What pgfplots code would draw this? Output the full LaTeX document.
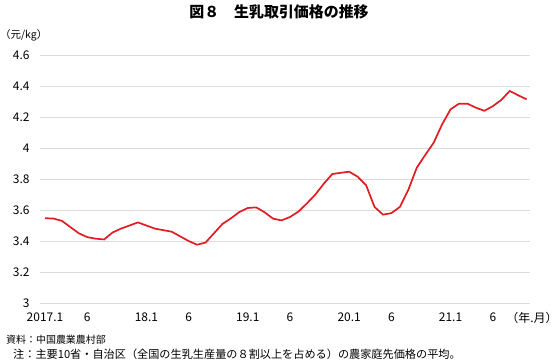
\documentclass[border=0pt]{standalone}
\usepackage{pgfplots}
\pgfplotsset{compat=1.18}
\usepackage{fontspec}
\setmainfont{Noto Sans CJK JP}
\definecolor{linered}{RGB}{225,28,34}
\definecolor{gridgray}{RGB}{220,220,220}
\begin{document}
\begin{tikzpicture}[x=1bp,y=1bp]
\useasboundingbox (0,0) rectangle (558,363);
\begin{axis}[
  at={(40bp,60bp)}, anchor=south west,
  scale only axis, width=490bp, height=248bp,
  xmin=-0.59, xmax=57.4, ymin=3, ymax=4.6,
  axis line style={draw=none},
  major tick length=0pt,
  ymajorgrids, grid style={gridgray, line width=0.9bp},
  ytick={3,3.2,3.4,3.6,3.8,4,4.2,4.4,4.6},
  yticklabels={3,3.2,3.4,3.6,3.8,4,4.2,4.4,4.6},
  xtick={0,5,12,17,24,29,36,41,48,53},
  xticklabels={2017.1,6,18.1,6,19.1,6,20.1,6,21.1,6},
  tick label style={font=\fontsize{12}{14}\selectfont},
  yticklabel style={xshift=-7bp},
  xticklabel style={yshift=-6bp},
  clip=false,
]
\addplot[linered, line width=1.7bp, mark=none] table[x=i,y=v] {
i v
0 3.547
1 3.545
2 3.53
3 3.49
4 3.45
5 3.425
6 3.415
7 3.41
8 3.455
9 3.48
10 3.50
11 3.52
12 3.50
13 3.48
14 3.47
15 3.46
16 3.43
17 3.40
18 3.376
19 3.39
20 3.45
21 3.51
22 3.546
23 3.587
24 3.613
25 3.617
26 3.585
27 3.544
28 3.533
29 3.555
30 3.59
31 3.643
32 3.70
33 3.77
34 3.832
35 3.84
36 3.847
37 3.815
38 3.76
39 3.62
40 3.57
41 3.58
42 3.62
43 3.73
44 3.873
45 3.955
46 4.034
47 4.153
48 4.25
49 4.286
50 4.286
51 4.26
52 4.24
53 4.27
54 4.31
55 4.368
56 4.34
57 4.314
};
\end{axis}
\node[font=\bfseries\fontsize{15}{17}\selectfont, anchor=center] at (279,351) {図８　生乳取引価格の推移};
\node[font=\fontsize{10.5}{12}\selectfont, anchor=west, inner sep=0pt] at (0,328) {（元/kg）};
\node[font=\fontsize{12}{14}\selectfont, anchor=center, inner sep=0pt] at (532,45) {（年.月）};
\node[font=\fontsize{10}{12}\selectfont, anchor=west, inner sep=0pt] at (6,23) {資料：中国農業農村部};
\node[font=\fontsize{11.2}{13}\selectfont, anchor=west, inner sep=0pt] at (13,9) {注：主要10省・自治区（全国の生乳生産量の８割以上を占める）の農家庭先価格の平均。};
\end{tikzpicture}
\end{document}
